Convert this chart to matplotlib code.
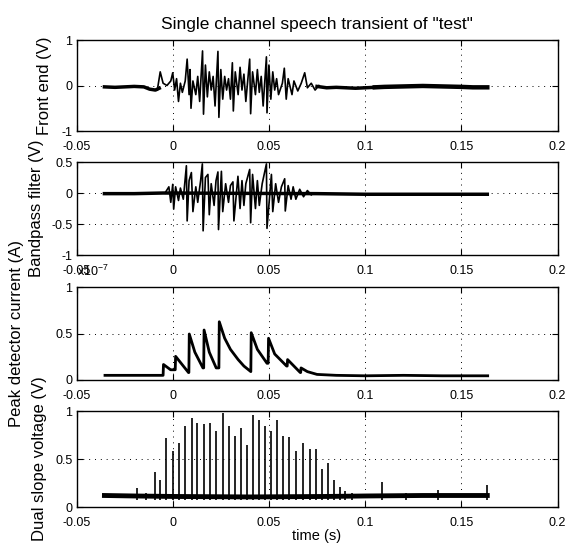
import matplotlib
matplotlib.use('Agg')
import matplotlib.pyplot as plt

plt.rcParams['font.family'] = ['Liberation Sans', 'DejaVu Sans']
plt.rcParams['mathtext.default'] = 'regular'
plt.rcParams['axes.unicode_minus'] = False

x_ticks = [-0.05, 0, 0.05, 0.1, 0.15, 0.2]
x_labels = ['-0.05', '0', '0.05', '0.1', '0.15', '0.2']

# front end (V): quiet parts before/after the word, and the voiced burst
fe_pre_t = [-0.0355, -0.03, -0.025, -0.02, -0.015, -0.012, -0.009, -0.007]
fe_pre_v = [-0.03, -0.04, -0.03, -0.02, -0.03, -0.08, -0.1, -0.06]
fe_post_t = [0.075, 0.08, 0.085, 0.09, 0.095, 0.10, 0.105]
fe_post_v = [-0.02, -0.05, -0.04, -0.05, -0.06, -0.05, -0.04]
fe_tail_t = [0.105, 0.11, 0.12, 0.13, 0.14, 0.15, 0.156, 0.1635]
fe_tail_v = [-0.04, -0.03, -0.02, -0.01, -0.02, -0.03, -0.04, -0.04]
fe_t = [-0.008, -0.0065, -0.005, -0.003, -0.001, 0.0, 0.001, 0.002, 0.003, 0.004,
        0.005, 0.0065, 0.0075, 0.0085, 0.009, 0.0095, 0.0105, 0.012, 0.013, 0.014,
        0.0155, 0.016, 0.017, 0.018, 0.019, 0.020, 0.021, 0.022, 0.0235, 0.024,
        0.025, 0.026, 0.027, 0.028, 0.029, 0.030, 0.031, 0.0315, 0.0325, 0.034,
        0.035, 0.036, 0.037, 0.038, 0.040, 0.0405, 0.0415, 0.043, 0.044, 0.045,
        0.046, 0.047, 0.0487, 0.049, 0.050, 0.051, 0.052, 0.053, 0.054, 0.055,
        0.057, 0.058, 0.059, 0.060, 0.062, 0.063, 0.065, 0.0668, 0.0686, 0.070,
        0.072, 0.074, 0.076]
fe_v = [-0.1, 0.3, 0.05, 0.0, 0.1, 0.28, -0.1, 0.15, -0.35, 0.05,
        -0.15, 0.1, 0.58, -0.2, 0.35, -0.5, 0.1, -0.2, 0.2, -0.35,
        0.76, -0.63, 0.45, -0.25, 0.3, -0.1, 0.2, -0.45, 0.75, -0.7,
        0.35, -0.3, 0.2, -0.1, 0.15, -0.3, 0.5, -0.56, 0.3, -0.2,
        0.4, -0.1, 0.25, -0.35, 0.58, -0.62, 0.3, -0.2, 0.35, -0.15,
        0.2, -0.45, 0.63, -0.6, 0.45, -0.3, 0.3, -0.1, 0.15, -0.2,
        0.05, 0.38, -0.3, 0.15, -0.2, 0.1, -0.12, 0.05, 0.28, -0.05,
        0.05, -0.1, 0.0]

# bandpass filter (V)
bp_base_t = [-0.0355, -0.02, -0.005, 0.075, 0.1, 0.13, 0.1635]
bp_base_v = [-0.01, -0.01, 0.0, -0.01, -0.02, -0.02, -0.02]
bp_t = [-0.004, -0.002, -0.001, 0.0, 0.0005, 0.0015, 0.003, 0.004, 0.0055, 0.0071,
        0.0075, 0.0085, 0.0097, 0.0105, 0.012, 0.013, 0.0145, 0.0154, 0.0158, 0.017,
        0.0183, 0.019, 0.020, 0.0215, 0.0225, 0.0235, 0.0238, 0.0253, 0.026, 0.0275,
        0.029, 0.030, 0.0313, 0.0318, 0.0339, 0.035, 0.036, 0.037, 0.038, 0.040,
        0.0405, 0.0415, 0.043, 0.044, 0.045, 0.0465, 0.0487, 0.049, 0.0513, 0.052,
        0.0535, 0.055, 0.0565, 0.0582, 0.0585, 0.060, 0.0615, 0.0626, 0.064, 0.066,
        0.068, 0.070, 0.072]
bp_v = [0.0, 0.1, -0.15, 0.14, -0.26, 0.1, -0.12, 0.08, -0.1, 0.44,
        -0.45, 0.2, 0.33, -0.3, 0.1, -0.15, 0.2, 0.47, -0.61, 0.25,
        0.3, -0.35, 0.15, -0.2, 0.2, 0.34, -0.59, 0.35, -0.3, 0.15,
        -0.15, 0.12, 0.18, -0.45, 0.27, -0.25, 0.2, -0.2, 0.15, 0.38,
        -0.48, 0.3, -0.25, 0.2, -0.2, 0.15, 0.47, -0.57, 0.3, -0.3,
        0.15, -0.15, 0.1, 0.23, -0.29, 0.12, -0.1, 0.1, -0.1, 0.06,
        -0.06, 0.04, -0.03]

# peak detector current (x1e-7 A)
pd_t = [-0.0352, -0.005, -0.0048, -0.0011, 0.0013, 0.0015, 0.0082, 0.0084, 0.0086, 0.0115,
        0.0157, 0.0161, 0.0163, 0.019, 0.0226, 0.024, 0.0242, 0.027, 0.030, 0.034,
        0.037, 0.0406, 0.0408, 0.044, 0.049, 0.0496, 0.0498, 0.053, 0.0592, 0.0595,
        0.0597, 0.0663, 0.0665, 0.0667, 0.070, 0.075, 0.085, 0.10, 0.12, 0.14, 0.1637]
pd_v = [0.05, 0.05, 0.167, 0.11, 0.11, 0.255, 0.08, 0.08, 0.496, 0.30,
        0.13, 0.13, 0.539, 0.30, 0.13, 0.13, 0.628, 0.45, 0.33, 0.22,
        0.15, 0.09, 0.51, 0.33, 0.18, 0.18, 0.45, 0.28, 0.15, 0.15,
        0.22, 0.08, 0.08, 0.13, 0.09, 0.06, 0.05, 0.045, 0.05, 0.045, 0.045]

# dual slope voltage (V): baseline and pulse peaks
ds_base_t = [-0.0355, -0.02, 0.0, 0.04, 0.08, 0.1, 0.13, 0.1635]
ds_base_v = [0.12, 0.115, 0.11, 0.105, 0.11, 0.115, 0.12, 0.12]
ds_low = 0.07
ds_spike_t = [-0.0188, -0.014, -0.0094, -0.0066, -0.0034, 0.0004, 0.0034, 0.0066, 0.0098, 0.0128,
              0.016, 0.0192, 0.0226, 0.0259, 0.0291, 0.0323, 0.0353, 0.0385, 0.0417, 0.0447,
              0.0479, 0.0511, 0.0541, 0.0573, 0.0605, 0.0639, 0.0677, 0.0714, 0.0743, 0.0776,
              0.0808, 0.0837, 0.0868, 0.0898, 0.093, 0.109, 0.121, 0.138, 0.1635]
ds_spike_v = [0.2, 0.15, 0.37, 0.28, 0.72, 0.58, 0.67, 0.84, 0.93, 0.88,
              0.87, 0.88, 0.79, 0.98, 0.84, 0.74, 0.82, 0.65, 0.96, 0.91,
              0.84, 0.79, 0.91, 0.74, 0.73, 0.58, 0.67, 0.6, 0.6, 0.4,
              0.46, 0.28, 0.21, 0.17, 0.15, 0.26, 0.15, 0.18, 0.23]

fig = plt.figure(figsize=(5.66, 5.45), dpi=100)
left, width = 0.1352, 0.8498
ax1 = fig.add_axes([left, 0.7596, width, 0.167])
ax2 = fig.add_axes([left, 0.5321, width, 0.1706])
ax3 = fig.add_axes([left, 0.3028, width, 0.1701])
ax4 = fig.add_axes([left, 0.0697, width, 0.1761])

ax1.plot(fe_pre_t, fe_pre_v, color='k', lw=2.5)
ax1.plot(fe_post_t, fe_post_v, color='k', lw=2.5)
ax1.plot(fe_tail_t, fe_tail_v, color='k', lw=3.2)
ax1.plot(fe_t, fe_v, color='k', lw=1.2)
ax1.set_ylim(-1, 1)
ax1.set_yticks([-1, 0, 1])
ax1.set_yticklabels(['-1', '0', '1'])

ax2.plot(bp_base_t, bp_base_v, color='k', lw=2.5)
ax2.plot(bp_t, bp_v, color='k', lw=1.2)
ax2.set_ylim(-1, 0.5)
ax2.set_yticks([-1, -0.5, 0, 0.5])
ax2.set_yticklabels(['-1', '-0.5', '0', '0.5'])

ax3.plot(pd_t, pd_v, color='k', lw=2.0)
ax3.set_ylim(0, 1)
ax3.set_yticks([0, 0.5, 1])
ax3.set_yticklabels(['0', '0.5', '1'])
ax3.annotate(r'x10$^{-7}$', xy=(0, 1), xycoords='axes fraction', xytext=(0, 6),
             textcoords='offset points', ha='left', va='bottom', fontsize=9)

ax4.plot(ds_base_t, ds_base_v, color='k', lw=3.5)
ax4.vlines(ds_spike_t, ds_low, ds_spike_v, color='k', lw=1.2)
ax4.set_ylim(0, 1)
ax4.set_yticks([0, 0.5, 1])
ax4.set_yticklabels(['0', '0.5', '1'])
ax4.set_xlabel('time (s)', fontsize=10.5, labelpad=0)

ylabels = ['Front end (V)', 'Bandpass filter (V)', 'Peak detector current (A)', 'Dual slope voltage (V)']
label_x = [-0.051, -0.068, -0.11, -0.061]
for ax, lab, lx in zip([ax1, ax2, ax3, ax4], ylabels, label_x):
    ax.set_xlim(-0.05, 0.2)
    ax.set_xticks(x_ticks)
    ax.set_xticklabels(x_labels)
    ax.tick_params(direction='in', top=True, right=True, length=4, width=0.8, labelsize=9)
    ax.tick_params(axis='x', pad=7)
    ax.tick_params(axis='y', pad=3)
    ax.grid(True, color='k', linestyle=(0, (1, 5)), linewidth=0.7)
    for s in ax.spines.values():
        s.set_linewidth(1.0)
    ax.set_ylabel(lab, fontsize=12)
    ax.yaxis.set_label_coords(lx, 0.5)

ax1.set_title('Single channel speech transient of "test"', fontsize=12.5, pad=8)

fig.savefig('out.png', dpi=100)
